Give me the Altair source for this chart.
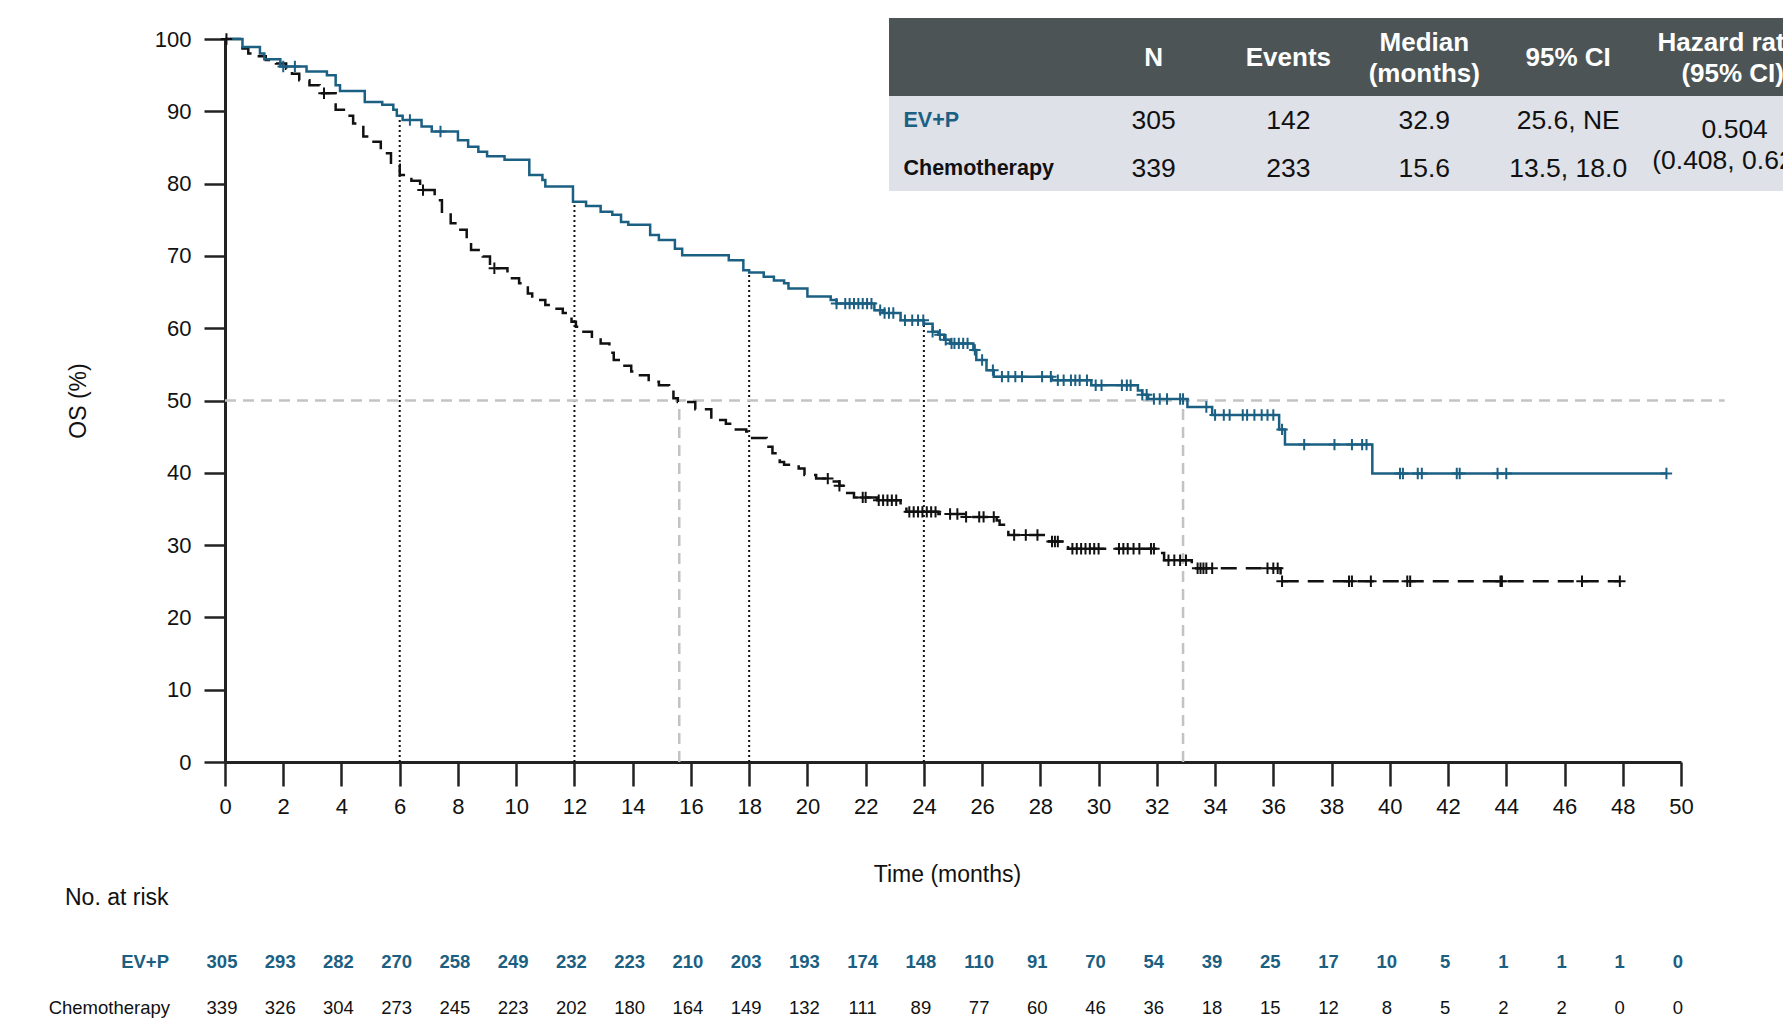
import altair as alt
import pandas as pd

# ---------------- data ----------------
ev_times = [0, 0.6, 1.2, 1.35, 1.9, 2.8, 3.5, 3.8, 3.95, 4.8, 5.4, 5.78, 5.9, 6.1, 6.75, 7.1,
            8.0, 8.35, 8.7, 9.0, 9.6, 10.45, 10.9, 11.0, 11.95, 12.4, 12.9, 13.3, 13.6, 13.85,
            14.6, 14.9, 15.45, 15.7, 17.3, 17.8, 18.0, 18.5, 18.85, 19.2, 19.35, 20.0, 20.8,
            21.0, 22.3, 22.6, 23.2, 24.0, 24.3, 24.5, 24.7, 24.9, 25.7, 25.8, 26.15, 26.4,
            28.4, 29.75, 31.35, 31.5, 31.7, 33.05, 33.9, 36.2, 36.4, 39.4]
ev_surv = [100, 98.9, 98.0, 97.2, 96.2, 95.5, 95.0, 93.6, 92.8, 91.3, 90.9, 90.2, 89.4, 88.8, 87.9, 87.2,
           86.0, 85.1, 84.4, 83.8, 83.3, 81.2, 80.5, 79.6, 77.5, 76.9, 76.1, 75.7, 74.7, 74.3,
           72.9, 72.2, 71.0, 70.1, 69.4, 68.0, 67.7, 67.1, 66.6, 66.2, 65.5, 64.4, 63.9,
           63.4, 62.5, 62.1, 61.1, 60.6, 59.5, 59.1, 58.4, 57.9, 57.0, 55.6, 54.2, 53.3,
           52.8, 52.1, 51.4, 50.8, 50.2, 49.1, 48.0, 46.0, 43.9, 39.9]
ev_censor = [2.0, 2.4, 6.35, 7.4, 21.0, 21.3, 21.45, 21.6, 21.75, 21.9, 22.05, 22.2, 22.5, 22.65,
             22.8, 22.95, 23.35, 23.6, 23.8, 23.98, 24.3, 24.55, 24.75, 24.95, 25.05, 25.2, 25.35,
             25.5, 25.75, 26.0, 26.37, 26.68, 26.9, 27.14, 27.37, 28.06, 28.36, 28.6, 28.8, 29.05,
             29.2, 29.35, 29.6, 29.9, 30.1, 30.8, 30.97, 31.1, 31.5, 31.65, 31.9, 32.1, 32.35,
             32.8, 32.9, 33.7, 34.0, 34.3, 34.5, 34.95, 35.1, 35.35, 35.6, 35.8, 36.0, 36.3,
             37.06, 38.1, 38.7, 39.05, 39.2, 40.35, 40.45, 40.96, 41.1, 42.3, 42.4, 43.7, 44.0, 49.5]

ch_times = [0, 0.6, 0.8, 1.1, 1.4, 1.75, 2.1, 2.3, 2.55, 2.9, 3.25, 3.8, 4.2, 4.4, 4.75, 5.1,
            5.35, 5.7, 6.0, 6.4, 6.7, 7.2, 7.45, 7.75, 8.0, 8.3, 8.45, 8.85, 9.1, 9.7, 10.1,
            10.4, 10.55, 11.0, 11.3, 11.6, 11.9, 12.05, 12.15, 12.6, 12.9, 13.2, 13.35, 13.6,
            13.95, 14.25, 14.55, 14.9, 15.25, 15.4, 15.55, 16.15, 16.7, 17.2, 17.45, 17.9,
            18.05, 18.6, 18.8, 19.05, 19.2, 19.7, 19.9, 20.3, 20.75, 21.1, 21.3, 21.6, 22.4,
            23.2, 23.4, 24.5, 25.4, 26.5, 26.6, 26.75, 26.9, 28.3, 28.95, 32.05, 32.25, 33.2,
            33.35, 36.25]
ch_surv = [100, 98.7, 98.0, 97.6, 97.1, 96.6, 95.9, 95.2, 94.3, 93.6, 92.5, 90.2, 89.4, 88.3, 86.5, 85.8,
           84.2, 82.6, 81.2, 80.4, 79.1, 77.7, 75.9, 74.5, 73.6, 72.2, 70.8, 69.9, 68.3, 66.9, 66.2,
           64.8, 63.9, 63.2, 62.7, 62.1, 60.9, 60.2, 59.5, 58.6, 57.9, 56.6, 55.6, 54.8,
           54.0, 53.5, 52.6, 52.1, 51.4, 50.3, 49.8, 48.8, 47.3, 46.8, 46.0, 45.7,
           44.8, 43.6, 42.7, 41.5, 41.1, 40.6, 39.7, 39.2, 38.8, 38.2, 37.2, 36.6, 36.2,
           35.3, 34.6, 34.3, 33.9, 33.4, 32.8, 32.3, 31.4, 30.5, 29.5, 28.9, 27.9, 27.2,
           26.8, 25.0]
ch_censor = [0.05, 3.4, 6.8, 9.25, 20.7, 21.1, 21.9, 22.0, 22.45, 22.6, 22.75, 22.9, 23.05, 23.5,
             23.65, 23.8, 23.95, 24.1, 24.25, 24.4, 24.9, 25.15, 25.45, 25.9, 26.05, 26.4, 27.1,
             27.5, 27.9, 28.4, 28.5, 28.6, 29.1, 29.25, 29.4, 29.55, 29.7, 29.85, 30.0, 30.7,
             30.85, 31.0, 31.2, 31.4, 31.8, 31.9, 32.4, 32.6, 32.8, 33.0, 33.4, 33.5, 33.6, 33.7,
             33.9, 35.8, 36.0, 36.15, 36.3, 38.6, 38.7, 39.35, 40.6, 40.7, 43.8, 43.85, 46.6, 47.9]

risk_times = list(range(0, 51, 2))
risk_ev = [305, 293, 282, 270, 258, 249, 232, 223, 210, 203, 193, 174, 148, 110, 91, 70, 54,
           39, 25, 17, 10, 5, 1, 1, 1, 0]
risk_ch = [339, 326, 304, 273, 245, 223, 202, 180, 164, 149, 132, 111, 89, 77, 60, 46, 36,
           18, 15, 12, 8, 5, 2, 2, 0, 0]

landmark_months = [6, 12, 18, 24]
landmark_ev = [89.4, 77.3, 67.7, 60.6]
median_months = [15.6, 32.9]
median_level = 50
ref_line_end = 51.5

arm_names = ["EV+P", "Chemotherapy"]
table_header = ["N", "Events", ["Median", "(months)"], "95% CI", ["Hazard ratio", "(95% CI)"]]
table_ev = ["305", "142", "32.9", "25.6, NE"]
table_ch = ["339", "233", "15.6", "13.5, 18.0"]
table_hr = ["0.504", "(0.408, 0.622)"]

# ---------------- styling / layout ----------------
FONT = "Liberation Sans"
BLUE = "#1b5f82"
BLACK = "#111111"
GRAY = "#c3c3c3"
W, H = 1456, 723

xs = alt.Scale(domain=[0, 50], nice=False, zero=False)
ys = alt.Scale(domain=[0, 100], nice=False)

x_axis = alt.Axis(values=list(range(0, 51, 2)), grid=False, domainWidth=3, domainColor="#222",
                  tickColor="#222", tickWidth=2.5, tickSize=24, labelFontSize=22, labelPadding=10,
                  labelColor=BLACK, labelFont=FONT, titleFont=FONT, titleFontSize=23,
                  titleFontWeight="normal", titleColor=BLACK, titleY=112, titleX=722,
                  titleBaseline="middle", labelFlush=False, labelOverlap=False)
y_axis = alt.Axis(values=list(range(0, 101, 10)), grid=False, domainWidth=3, domainColor="#222",
                  tickColor="#222", tickWidth=2.5, tickSize=21, labelFontSize=22, labelPadding=13,
                  labelColor=BLACK, labelFont=FONT, titleFont=FONT, titleFontSize=23,
                  titleFontWeight="normal", titleColor=BLACK, titleX=-147, titleY=361.5,
                  titleAngle=270, titleBaseline="middle", titleAlign="center", labelFlush=False)


def X(field):
    return alt.X(f"{field}:Q", scale=xs, axis=x_axis, title="Time (months)")


def Y(field):
    return alt.Y(f"{field}:Q", scale=ys, axis=y_axis, title="OS (%)")


def surv_at(times, vals, t):
    v = vals[0]
    for ti, vi in zip(times, vals):
        if ti <= t:
            v = vi
    return v


def curve_df(times, vals, censors):
    t = list(times) + [censors[-1]]
    s = list(vals) + [vals[-1]]
    return pd.DataFrame({"t": t, "s": s})


def censor_df(times, vals, censors):
    return pd.DataFrame({"t": censors, "s": [surv_at(times, vals, c) for c in censors]})


one = pd.DataFrame({"a": [0]})
layers = []

# reference lines
lm = pd.DataFrame({"t": landmark_months, "lo": [0] * 4, "hi": landmark_ev})
layers.append(alt.Chart(lm).mark_rule(color="#111", strokeWidth=2, strokeDash=[2, 3]).encode(
    x=X("t"), y=Y("lo"), y2="hi:Q"))
md = pd.DataFrame({"t": median_months, "lo": [0, 0], "hi": [median_level] * 2})
layers.append(alt.Chart(md).mark_rule(color=GRAY, strokeWidth=2.5, strokeDash=[11, 7]).encode(
    x=X("t"), y=Y("lo"), y2="hi:Q"))
hl = pd.DataFrame({"t": [0], "t2": [ref_line_end], "s": [median_level]})
layers.append(alt.Chart(hl).mark_rule(color=GRAY, strokeWidth=2.5, strokeDash=[11, 7], clip=False).encode(
    x=X("t"), x2="t2:Q", y=Y("s")))

# curves
layers.append(alt.Chart(curve_df(ch_times, ch_surv, ch_censor)).mark_line(
    interpolate="step-after", color=BLACK, strokeWidth=2.5, strokeDash=[16, 9]).encode(
    x=X("t"), y=Y("s")))
layers.append(alt.Chart(curve_df(ev_times, ev_surv, ev_censor)).mark_line(
    interpolate="step-after", color=BLUE, strokeWidth=2.5).encode(x=X("t"), y=Y("s")))

PLUS = "M-1,0H1M0,-1V1"
layers.append(alt.Chart(censor_df(ch_times, ch_surv, ch_censor)).mark_point(
    shape=PLUS, size=130, filled=False, stroke=BLACK, strokeWidth=2, opacity=1).encode(
    x=X("t"), y=Y("s")))
layers.append(alt.Chart(censor_df(ev_times, ev_surv, ev_censor)).mark_point(
    shape=PLUS, size=130, filled=False, stroke=BLUE, strokeWidth=2, opacity=1).encode(
    x=X("t"), y=Y("s")))

# numbers at risk
RISK_Y = [923, 969]
risk_df = pd.DataFrame({"t": risk_times, "ev": [str(v) for v in risk_ev],
                        "ch": [str(v) for v in risk_ch]})
layers.append(alt.Chart(risk_df).mark_text(font=FONT, fontSize=18.5, fontWeight="bold", color=BLUE,
                                           baseline="middle", dx=-3).encode(
    x=X("t"), y=alt.value(RISK_Y[0]), text="ev:N"))
layers.append(alt.Chart(risk_df).mark_text(font=FONT, fontSize=18.5, color=BLACK,
                                           baseline="middle", dx=-3).encode(
    x=X("t"), y=alt.value(RISK_Y[1]), text="ch:N"))
layers.append(alt.Chart(one).mark_text(text=arm_names[0], font=FONT, fontSize=18.5, fontWeight="bold",
                                       color=BLUE, align="right", baseline="middle").encode(
    x=alt.value(-56), y=alt.value(RISK_Y[0])))
layers.append(alt.Chart(one).mark_text(text=arm_names[1], font=FONT, fontSize=18.5, color=BLACK,
                                       align="right", baseline="middle").encode(
    x=alt.value(-55), y=alt.value(RISK_Y[1])))
layers.append(alt.Chart(one).mark_text(text="No. at risk", font=FONT, fontSize=23, color=BLACK,
                                       align="left", baseline="middle").encode(
    x=alt.value(-160), y=alt.value(859)))

# summary table
TBL_X0, TBL_X1 = 664, 1575
layers.append(alt.Chart(one).mark_rect(color="#4c5456").encode(
    x=alt.value(TBL_X0), x2=alt.value(TBL_X1), y=alt.value(-21), y2=alt.value(57)))
layers.append(alt.Chart(one).mark_rect(color="#dee1e8").encode(
    x=alt.value(TBL_X0), x2=alt.value(TBL_X1), y=alt.value(57), y2=alt.value(152)))

col_x = [928.6, 1063.4, 1199.3, 1343.2, 1507.7]
for cx, h in zip(col_x, table_header):
    if isinstance(h, list):
        for line, yy in zip(h, [4.4, 35.2]):
            layers.append(alt.Chart(one).mark_text(text=line, font=FONT, fontSize=26, fontWeight="bold",
                                                   color="white", baseline="middle").encode(
                x=alt.value(cx), y=alt.value(yy)))
    else:
        layers.append(alt.Chart(one).mark_text(text=h, font=FONT, fontSize=26, fontWeight="bold",
                                               color="white", baseline="middle").encode(
            x=alt.value(cx), y=alt.value(19)))

row_y = [82, 130]
layers.append(alt.Chart(one).mark_text(text=arm_names[0], font=FONT, fontSize=21.5, fontWeight="bold",
                                       color=BLUE, align="left", baseline="middle").encode(
    x=alt.value(678.5), y=alt.value(row_y[0])))
layers.append(alt.Chart(one).mark_text(text=arm_names[1], font=FONT, fontSize=21.5, fontWeight="bold",
                                       color=BLACK, align="left", baseline="middle").encode(
    x=alt.value(678.5), y=alt.value(row_y[1])))
for vals, ry in zip([table_ev, table_ch], row_y):
    for cx, v in zip(col_x[:4], vals):
        layers.append(alt.Chart(one).mark_text(text=v, font=FONT, fontSize=26.5, color=BLACK,
                                               baseline="middle").encode(
            x=alt.value(cx), y=alt.value(ry)))
for v, yy in zip(table_hr, [91, 122]):
    layers.append(alt.Chart(one).mark_text(text=v, font=FONT, fontSize=26.5, color=BLACK,
                                           baseline="middle").encode(
        x=alt.value(col_x[4] + 2), y=alt.value(yy)))

chart = alt.layer(*layers).properties(
    width=W, height=H,
    autosize=alt.AutoSizeParams(type="none"),
    padding={"left": 217, "top": 31, "right": 102, "bottom": 262},
    background="white",
).configure_view(stroke=None)

chart.save("out.html", embed_options={"renderer": "svg", "actions": False})
